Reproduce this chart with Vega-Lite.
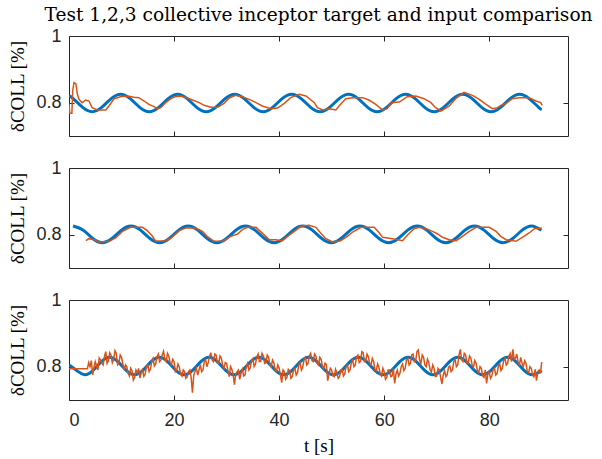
{
  "$schema": "https://vega.github.io/schema/vega-lite/v6.json",
  "padding": {"left": 8, "top": 6, "right": 2, "bottom": 0},
  "background": "white",
  "spacing": 22,
  "datasets": {
    "t1": [{"t":0,"v":0.821},{"t":0.8,"v":0.812},{"t":2.61,"v":0.786},{"t":4.41,"v":0.773},{"t":6.22,"v":0.786},{"t":8.03,"v":0.812},{"t":9.84,"v":0.825},{"t":11.65,"v":0.812},{"t":13.46,"v":0.786},{"t":15.26,"v":0.773},{"t":17.07,"v":0.786},{"t":18.88,"v":0.812},{"t":20.69,"v":0.825},{"t":22.5,"v":0.812},{"t":24.31,"v":0.786},{"t":26.12,"v":0.773},{"t":27.92,"v":0.786},{"t":29.73,"v":0.812},{"t":31.54,"v":0.825},{"t":33.35,"v":0.812},{"t":35.16,"v":0.786},{"t":36.96,"v":0.773},{"t":38.77,"v":0.786},{"t":40.58,"v":0.812},{"t":42.39,"v":0.825},{"t":44.2,"v":0.812},{"t":46.01,"v":0.786},{"t":47.81,"v":0.773},{"t":49.62,"v":0.786},{"t":51.43,"v":0.812},{"t":53.24,"v":0.825},{"t":55.05,"v":0.812},{"t":56.86,"v":0.786},{"t":58.66,"v":0.773},{"t":60.47,"v":0.786},{"t":62.28,"v":0.812},{"t":64.09,"v":0.825},{"t":65.9,"v":0.812},{"t":67.71,"v":0.786},{"t":69.51,"v":0.773},{"t":71.32,"v":0.786},{"t":73.13,"v":0.812},{"t":74.94,"v":0.825},{"t":76.75,"v":0.812},{"t":78.56,"v":0.786},{"t":80.36,"v":0.773},{"t":82.17,"v":0.786},{"t":83.98,"v":0.812},{"t":85.79,"v":0.825},{"t":87.6,"v":0.812},{"t":89.41,"v":0.786},{"t":90,"v":0.779}],
    "i1": [{"t":0,"v":0.797},{"t":0.15,"v":0.768},{"t":0.55,"v":0.768},{"t":0.7,"v":0.835},{"t":0.95,"v":0.86},{"t":1.3,"v":0.857},{"t":1.6,"v":0.825},{"t":1.9,"v":0.81},{"t":2.5,"v":0.8},{"t":3.2,"v":0.808},{"t":3.8,"v":0.805},{"t":4.4,"v":0.785},{"t":5.4,"v":0.778},{"t":7.0,"v":0.778},{"t":7.6,"v":0.79},{"t":8.6,"v":0.812},{"t":9.8,"v":0.818},{"t":11.1,"v":0.82},{"t":12.4,"v":0.816},{"t":13.3,"v":0.815},{"t":14.3,"v":0.805},{"t":15.2,"v":0.795},{"t":16.2,"v":0.788},{"t":16.8,"v":0.782},{"t":17.5,"v":0.785},{"t":18.4,"v":0.8},{"t":19.4,"v":0.812},{"t":20.3,"v":0.818},{"t":21.3,"v":0.82},{"t":22.5,"v":0.814},{"t":23.5,"v":0.808},{"t":24.8,"v":0.8},{"t":25.7,"v":0.792},{"t":27.0,"v":0.786},{"t":28.3,"v":0.786},{"t":29.5,"v":0.798},{"t":30.5,"v":0.814},{"t":31.7,"v":0.822},{"t":33.0,"v":0.818},{"t":34.3,"v":0.81},{"t":35.6,"v":0.8},{"t":36.8,"v":0.79},{"t":38.4,"v":0.782},{"t":39.7,"v":0.784},{"t":41.0,"v":0.798},{"t":42.2,"v":0.815},{"t":43.8,"v":0.825},{"t":45.1,"v":0.82},{"t":46.7,"v":0.8},{"t":47.3,"v":0.785},{"t":48.3,"v":0.778},{"t":49.5,"v":0.782},{"t":50.8,"v":0.778},{"t":51.7,"v":0.795},{"t":52.7,"v":0.812},{"t":54.0,"v":0.815},{"t":55.9,"v":0.815},{"t":57.1,"v":0.808},{"t":58.4,"v":0.795},{"t":59.7,"v":0.778},{"t":60.6,"v":0.782},{"t":61.3,"v":0.8},{"t":62.9,"v":0.802},{"t":64.4,"v":0.818},{"t":66.0,"v":0.82},{"t":67.6,"v":0.812},{"t":68.9,"v":0.8},{"t":69.8,"v":0.785},{"t":70.8,"v":0.775},{"t":72.4,"v":0.79},{"t":73.6,"v":0.812},{"t":75.2,"v":0.831},{"t":76.8,"v":0.822},{"t":78.1,"v":0.81},{"t":79.4,"v":0.795},{"t":80.6,"v":0.782},{"t":81.6,"v":0.785},{"t":82.2,"v":0.792},{"t":83.2,"v":0.798},{"t":84.4,"v":0.812},{"t":85.7,"v":0.815},{"t":87.6,"v":0.815},{"t":88.9,"v":0.805},{"t":89.8,"v":0.8},{"t":90.1,"v":0.792}],
    "t2": [{"t":0.76,"v":0.826},{"t":2.72,"v":0.8135},{"t":4.53,"v":0.7885},{"t":6.35,"v":0.776},{"t":8.17,"v":0.7885},{"t":9.98,"v":0.8135},{"t":11.8,"v":0.826},{"t":13.62,"v":0.8135},{"t":15.43,"v":0.7885},{"t":17.25,"v":0.776},{"t":19.07,"v":0.7885},{"t":20.88,"v":0.8135},{"t":22.7,"v":0.826},{"t":24.52,"v":0.8135},{"t":26.33,"v":0.7885},{"t":28.15,"v":0.776},{"t":29.97,"v":0.7885},{"t":31.78,"v":0.8135},{"t":33.6,"v":0.826},{"t":35.42,"v":0.8135},{"t":37.23,"v":0.7885},{"t":39.05,"v":0.776},{"t":40.87,"v":0.7885},{"t":42.68,"v":0.8135},{"t":44.5,"v":0.826},{"t":46.32,"v":0.8135},{"t":48.13,"v":0.7885},{"t":49.95,"v":0.776},{"t":51.77,"v":0.7885},{"t":53.58,"v":0.8135},{"t":55.4,"v":0.826},{"t":57.22,"v":0.8135},{"t":59.03,"v":0.7885},{"t":60.85,"v":0.776},{"t":62.67,"v":0.7885},{"t":64.48,"v":0.8135},{"t":66.3,"v":0.826},{"t":68.12,"v":0.8135},{"t":69.93,"v":0.7885},{"t":71.75,"v":0.776},{"t":73.57,"v":0.7885},{"t":75.38,"v":0.8135},{"t":77.2,"v":0.826},{"t":79.02,"v":0.8135},{"t":80.83,"v":0.7885},{"t":82.65,"v":0.776},{"t":84.47,"v":0.7885},{"t":86.28,"v":0.8135},{"t":88.1,"v":0.826},{"t":89.92,"v":0.8135}],
    "i2": [{"t":3.2,"v":0.782},{"t":3.8,"v":0.788},{"t":4.8,"v":0.785},{"t":5.7,"v":0.778},{"t":7.6,"v":0.78},{"t":8.9,"v":0.79},{"t":10.2,"v":0.81},{"t":11.7,"v":0.822},{"t":14.0,"v":0.822},{"t":14.9,"v":0.812},{"t":15.9,"v":0.795},{"t":16.5,"v":0.78},{"t":18.4,"v":0.782},{"t":19.4,"v":0.79},{"t":21.0,"v":0.812},{"t":22.2,"v":0.82},{"t":24.1,"v":0.82},{"t":25.4,"v":0.81},{"t":26.3,"v":0.795},{"t":27.6,"v":0.78},{"t":29.2,"v":0.78},{"t":30.8,"v":0.795},{"t":32.1,"v":0.802},{"t":33.0,"v":0.815},{"t":34.0,"v":0.822},{"t":35.6,"v":0.822},{"t":37.1,"v":0.8},{"t":38.1,"v":0.785},{"t":39.4,"v":0.785},{"t":40.6,"v":0.782},{"t":41.6,"v":0.795},{"t":42.9,"v":0.81},{"t":44.1,"v":0.825},{"t":45.7,"v":0.828},{"t":47.0,"v":0.822},{"t":47.9,"v":0.805},{"t":48.9,"v":0.788},{"t":50.2,"v":0.778},{"t":51.7,"v":0.782},{"t":53.0,"v":0.795},{"t":54.0,"v":0.808},{"t":55.6,"v":0.822},{"t":58.1,"v":0.822},{"t":59.1,"v":0.805},{"t":59.7,"v":0.792},{"t":61.6,"v":0.788},{"t":63.5,"v":0.782},{"t":64.5,"v":0.8},{"t":65.7,"v":0.818},{"t":66.7,"v":0.822},{"t":68.0,"v":0.818},{"t":69.2,"v":0.81},{"t":70.2,"v":0.802},{"t":71.1,"v":0.792},{"t":72.4,"v":0.785},{"t":73.7,"v":0.782},{"t":74.9,"v":0.795},{"t":76.2,"v":0.81},{"t":77.5,"v":0.822},{"t":80.0,"v":0.822},{"t":81.3,"v":0.81},{"t":82.2,"v":0.795},{"t":83.2,"v":0.785},{"t":85.1,"v":0.78},{"t":86.3,"v":0.792},{"t":87.6,"v":0.805},{"t":88.6,"v":0.818},{"t":90.0,"v":0.82}],
    "t3": [{"t":0,"v":0.805},{"t":1.42,"v":0.789},{"t":3.0,"v":0.776},{"t":4.58,"v":0.789},{"t":6.16,"v":0.815},{"t":7.73,"v":0.828},{"t":9.31,"v":0.815},{"t":10.89,"v":0.789},{"t":12.47,"v":0.776},{"t":14.05,"v":0.789},{"t":15.63,"v":0.815},{"t":17.2,"v":0.828},{"t":18.78,"v":0.815},{"t":20.36,"v":0.789},{"t":21.94,"v":0.776},{"t":23.52,"v":0.789},{"t":25.1,"v":0.815},{"t":26.67,"v":0.828},{"t":28.25,"v":0.815},{"t":29.83,"v":0.789},{"t":31.41,"v":0.776},{"t":32.99,"v":0.789},{"t":34.57,"v":0.815},{"t":36.14,"v":0.828},{"t":37.72,"v":0.815},{"t":39.3,"v":0.789},{"t":40.88,"v":0.776},{"t":42.46,"v":0.789},{"t":44.04,"v":0.815},{"t":45.61,"v":0.828},{"t":47.19,"v":0.815},{"t":48.77,"v":0.789},{"t":50.35,"v":0.776},{"t":51.93,"v":0.789},{"t":53.51,"v":0.815},{"t":55.08,"v":0.828},{"t":56.66,"v":0.815},{"t":58.24,"v":0.789},{"t":59.82,"v":0.776},{"t":61.4,"v":0.789},{"t":62.98,"v":0.815},{"t":64.55,"v":0.828},{"t":66.13,"v":0.815},{"t":67.71,"v":0.789},{"t":69.29,"v":0.776},{"t":70.87,"v":0.789},{"t":72.45,"v":0.815},{"t":74.02,"v":0.828},{"t":75.6,"v":0.815},{"t":77.18,"v":0.789},{"t":78.76,"v":0.776},{"t":80.34,"v":0.789},{"t":81.92,"v":0.815},{"t":83.49,"v":0.828},{"t":85.07,"v":0.815},{"t":86.65,"v":0.789},{"t":88.23,"v":0.776},{"t":90,"v":0.788}],
    "i3": [{"t":0,"v":0.794},{"t":3.5,"v":0.794},{"t":3.75,"v":0.812},{"t":4,"v":0.8},{"t":4.25,"v":0.818},{"t":4.5,"v":0.775},{"t":4.75,"v":0.798},{"t":5,"v":0.815},{"t":5.25,"v":0.802},{"t":5.5,"v":0.79},{"t":5.75,"v":0.826},{"t":6,"v":0.82},{"t":6.25,"v":0.81},{"t":6.5,"v":0.805},{"t":6.75,"v":0.83},{"t":7,"v":0.845},{"t":7.25,"v":0.81},{"t":7.5,"v":0.818},{"t":7.75,"v":0.842},{"t":8,"v":0.835},{"t":8.25,"v":0.812},{"t":8.5,"v":0.822},{"t":8.75,"v":0.848},{"t":9,"v":0.84},{"t":9.25,"v":0.806},{"t":9.5,"v":0.812},{"t":9.75,"v":0.835},{"t":10,"v":0.828},{"t":10.25,"v":0.808},{"t":10.5,"v":0.79},{"t":10.75,"v":0.805},{"t":11,"v":0.8},{"t":11.25,"v":0.78},{"t":11.5,"v":0.772},{"t":11.75,"v":0.795},{"t":12,"v":0.788},{"t":12.25,"v":0.76},{"t":12.5,"v":0.768},{"t":12.75,"v":0.79},{"t":13,"v":0.781},{"t":13.25,"v":0.795},{"t":13.5,"v":0.766},{"t":13.75,"v":0.782},{"t":14,"v":0.79},{"t":14.25,"v":0.771},{"t":14.5,"v":0.778},{"t":14.75,"v":0.8},{"t":15,"v":0.805},{"t":15.25,"v":0.785},{"t":15.5,"v":0.792},{"t":15.75,"v":0.815},{"t":16,"v":0.825},{"t":16.25,"v":0.802},{"t":16.5,"v":0.808},{"t":16.75,"v":0.83},{"t":17,"v":0.838},{"t":17.25,"v":0.815},{"t":17.5,"v":0.82},{"t":17.75,"v":0.835},{"t":18,"v":0.846},{"t":18.25,"v":0.822},{"t":18.5,"v":0.815},{"t":18.75,"v":0.84},{"t":19,"v":0.832},{"t":19.25,"v":0.812},{"t":19.5,"v":0.806},{"t":19.75,"v":0.822},{"t":20,"v":0.815},{"t":20.25,"v":0.785},{"t":20.5,"v":0.79},{"t":20.75,"v":0.808},{"t":21,"v":0.798},{"t":21.25,"v":0.778},{"t":21.5,"v":0.772},{"t":21.75,"v":0.79},{"t":22,"v":0.785},{"t":22.25,"v":0.765},{"t":22.5,"v":0.77},{"t":22.75,"v":0.785},{"t":23,"v":0.79},{"t":23.25,"v":0.768},{"t":23.5,"v":0.722},{"t":23.75,"v":0.775},{"t":24,"v":0.786},{"t":24.25,"v":0.795},{"t":24.5,"v":0.775},{"t":24.75,"v":0.79},{"t":25,"v":0.806},{"t":25.25,"v":0.785},{"t":25.5,"v":0.79},{"t":25.75,"v":0.815},{"t":26,"v":0.822},{"t":26.25,"v":0.8},{"t":26.5,"v":0.812},{"t":26.75,"v":0.83},{"t":27,"v":0.842},{"t":27.25,"v":0.82},{"t":27.5,"v":0.815},{"t":27.75,"v":0.838},{"t":28,"v":0.835},{"t":28.25,"v":0.81},{"t":28.5,"v":0.81},{"t":28.75,"v":0.832},{"t":29,"v":0.826},{"t":29.25,"v":0.805},{"t":29.5,"v":0.795},{"t":29.75,"v":0.812},{"t":30,"v":0.81},{"t":30.25,"v":0.788},{"t":30.5,"v":0.77},{"t":30.75,"v":0.8},{"t":31,"v":0.792},{"t":31.25,"v":0.775},{"t":31.5,"v":0.746},{"t":31.75,"v":0.778},{"t":32,"v":0.785},{"t":32.25,"v":0.79},{"t":32.5,"v":0.762},{"t":32.75,"v":0.78},{"t":33,"v":0.792},{"t":33.25,"v":0.772},{"t":33.5,"v":0.775},{"t":33.75,"v":0.8},{"t":34,"v":0.81},{"t":34.25,"v":0.79},{"t":34.5,"v":0.796},{"t":34.75,"v":0.818},{"t":35,"v":0.824},{"t":35.25,"v":0.8},{"t":35.5,"v":0.808},{"t":35.75,"v":0.83},{"t":36,"v":0.838},{"t":36.25,"v":0.815},{"t":36.5,"v":0.816},{"t":36.75,"v":0.84},{"t":37,"v":0.832},{"t":37.25,"v":0.81},{"t":37.5,"v":0.812},{"t":37.75,"v":0.835},{"t":38,"v":0.828},{"t":38.25,"v":0.805},{"t":38.5,"v":0.8},{"t":38.75,"v":0.82},{"t":39,"v":0.812},{"t":39.25,"v":0.79},{"t":39.5,"v":0.786},{"t":39.75,"v":0.805},{"t":40,"v":0.796},{"t":40.25,"v":0.775},{"t":40.5,"v":0.752},{"t":40.75,"v":0.79},{"t":41,"v":0.785},{"t":41.25,"v":0.762},{"t":41.5,"v":0.768},{"t":41.75,"v":0.792},{"t":42,"v":0.788},{"t":42.25,"v":0.765},{"t":42.5,"v":0.77},{"t":42.75,"v":0.79},{"t":43,"v":0.795},{"t":43.25,"v":0.775},{"t":43.5,"v":0.782},{"t":43.75,"v":0.805},{"t":44,"v":0.812},{"t":44.25,"v":0.79},{"t":44.5,"v":0.798},{"t":44.75,"v":0.822},{"t":45,"v":0.828},{"t":45.25,"v":0.805},{"t":45.5,"v":0.81},{"t":45.75,"v":0.832},{"t":46,"v":0.84},{"t":46.25,"v":0.818},{"t":46.5,"v":0.815},{"t":46.75,"v":0.838},{"t":47,"v":0.832},{"t":47.25,"v":0.81},{"t":47.5,"v":0.805},{"t":47.75,"v":0.828},{"t":48,"v":0.822},{"t":48.25,"v":0.8},{"t":48.5,"v":0.795},{"t":48.75,"v":0.81},{"t":49,"v":0.806},{"t":49.25,"v":0.758},{"t":49.5,"v":0.776},{"t":49.75,"v":0.795},{"t":50,"v":0.79},{"t":50.25,"v":0.772},{"t":50.5,"v":0.77},{"t":50.75,"v":0.792},{"t":51,"v":0.782},{"t":51.25,"v":0.765},{"t":51.5,"v":0.77},{"t":51.75,"v":0.79},{"t":52,"v":0.792},{"t":52.25,"v":0.772},{"t":52.5,"v":0.778},{"t":52.75,"v":0.8},{"t":53,"v":0.806},{"t":53.25,"v":0.785},{"t":53.5,"v":0.79},{"t":53.75,"v":0.812},{"t":54,"v":0.82},{"t":54.25,"v":0.8},{"t":54.5,"v":0.805},{"t":54.75,"v":0.83},{"t":55,"v":0.835},{"t":55.25,"v":0.812},{"t":55.5,"v":0.815},{"t":55.75,"v":0.845},{"t":56,"v":0.842},{"t":56.25,"v":0.815},{"t":56.5,"v":0.818},{"t":56.75,"v":0.838},{"t":57,"v":0.83},{"t":57.25,"v":0.808},{"t":57.5,"v":0.805},{"t":57.75,"v":0.825},{"t":58,"v":0.815},{"t":58.25,"v":0.79},{"t":58.5,"v":0.788},{"t":58.75,"v":0.808},{"t":59,"v":0.798},{"t":59.25,"v":0.778},{"t":59.5,"v":0.772},{"t":59.75,"v":0.795},{"t":60,"v":0.785},{"t":60.25,"v":0.762},{"t":60.5,"v":0.768},{"t":60.75,"v":0.79},{"t":61,"v":0.79},{"t":61.25,"v":0.77},{"t":61.5,"v":0.772},{"t":61.75,"v":0.795},{"t":62,"v":0.75},{"t":62.25,"v":0.778},{"t":62.5,"v":0.79},{"t":62.75,"v":0.772},{"t":63,"v":0.78},{"t":63.25,"v":0.8},{"t":63.5,"v":0.808},{"t":63.75,"v":0.788},{"t":64,"v":0.795},{"t":64.25,"v":0.82},{"t":64.5,"v":0.825},{"t":64.75,"v":0.805},{"t":65,"v":0.81},{"t":65.25,"v":0.835},{"t":65.5,"v":0.838},{"t":65.75,"v":0.815},{"t":66,"v":0.818},{"t":66.25,"v":0.845},{"t":66.5,"v":0.85},{"t":66.75,"v":0.82},{"t":67,"v":0.81},{"t":67.25,"v":0.835},{"t":67.5,"v":0.828},{"t":67.75,"v":0.805},{"t":68,"v":0.8},{"t":68.25,"v":0.822},{"t":68.5,"v":0.812},{"t":68.75,"v":0.79},{"t":69,"v":0.784},{"t":69.25,"v":0.805},{"t":69.5,"v":0.795},{"t":69.75,"v":0.77},{"t":70,"v":0.772},{"t":70.25,"v":0.795},{"t":70.5,"v":0.79},{"t":70.75,"v":0.768},{"t":71,"v":0.748},{"t":71.25,"v":0.775},{"t":71.5,"v":0.788},{"t":71.75,"v":0.77},{"t":72,"v":0.776},{"t":72.25,"v":0.798},{"t":72.5,"v":0.802},{"t":72.75,"v":0.785},{"t":73,"v":0.79},{"t":73.25,"v":0.815},{"t":73.5,"v":0.822},{"t":73.75,"v":0.8},{"t":74,"v":0.805},{"t":74.25,"v":0.835},{"t":74.5,"v":0.852},{"t":74.75,"v":0.82},{"t":75,"v":0.815},{"t":75.25,"v":0.84},{"t":75.5,"v":0.835},{"t":75.75,"v":0.812},{"t":76,"v":0.81},{"t":76.25,"v":0.832},{"t":76.5,"v":0.826},{"t":76.75,"v":0.805},{"t":77,"v":0.798},{"t":77.25,"v":0.818},{"t":77.5,"v":0.81},{"t":77.75,"v":0.788},{"t":78,"v":0.782},{"t":78.25,"v":0.8},{"t":78.5,"v":0.795},{"t":78.75,"v":0.772},{"t":79,"v":0.768},{"t":79.25,"v":0.79},{"t":79.5,"v":0.75},{"t":79.75,"v":0.778},{"t":80,"v":0.785},{"t":80.25,"v":0.765},{"t":80.5,"v":0.772},{"t":80.75,"v":0.792},{"t":81,"v":0.795},{"t":81.25,"v":0.775},{"t":81.5,"v":0.78},{"t":81.75,"v":0.802},{"t":82,"v":0.808},{"t":82.25,"v":0.788},{"t":82.5,"v":0.795},{"t":82.75,"v":0.818},{"t":83,"v":0.825},{"t":83.25,"v":0.805},{"t":83.5,"v":0.81},{"t":83.75,"v":0.832},{"t":84,"v":0.84},{"t":84.25,"v":0.815},{"t":84.5,"v":0.852},{"t":84.75,"v":0.822},{"t":85,"v":0.826},{"t":85.25,"v":0.838},{"t":85.5,"v":0.812},{"t":85.75,"v":0.806},{"t":86,"v":0.828},{"t":86.25,"v":0.81},{"t":86.5,"v":0.8},{"t":86.75,"v":0.818},{"t":87,"v":0.81},{"t":87.25,"v":0.785},{"t":87.5,"v":0.782},{"t":87.75,"v":0.8},{"t":88,"v":0.795},{"t":88.25,"v":0.776},{"t":88.5,"v":0.77},{"t":88.75,"v":0.792},{"t":89,"v":0.758},{"t":89.25,"v":0.785},{"t":89.5,"v":0.79},{"t":89.75,"v":0.78},{"t":90,"v":0.814}]
  },
  "vconcat": [
    {
      "width": 499, "height": 100,
      "title": {"text": "Test 1,2,3 collective inceptor target and input comparison", "frame": "group", "anchor": "middle", "font": "DejaVu Serif", "fontSize": 18.6, "fontWeight": "normal", "color": "#000000", "offset": 2},
      "layer": [
        {"data": {"name": "t1"}, "mark": {"type": "line", "color": "#0072BD", "strokeWidth": 3, "interpolate": "natural", "clip": true},
         "encoding": {
           "x": {"field": "t", "type": "quantitative", "scale": {"domain": [0, 95], "nice": false, "zero": false}, "axis": {"orient": "bottom", "values": [0, 20, 40, 60, 80], "labels": false, "title": null}},
           "y": {"field": "v", "type": "quantitative", "scale": {"domain": [0.7, 1], "nice": false, "zero": false}, "axis": {"orient": "left", "values": [0.8, 1], "format": "~g", "title": "δCOLL [%]"}}
         }},
        {"data": {"name": "i1"}, "mark": {"type": "line", "color": "#D95319", "strokeWidth": 1.5, "clip": true},
         "encoding": {
           "x": {"field": "t", "type": "quantitative", "axis": {"orient": "top", "values": [20, 40, 60, 80], "labels": false, "title": null}},
           "y": {"field": "v", "type": "quantitative", "axis": {"orient": "right", "values": [0.8], "labels": false, "title": null}}
         }}
      ],
      "resolve": {"axis": {"x": "independent", "y": "independent"}}
    },
    {
      "width": 499, "height": 100,
      "layer": [
        {"data": {"name": "t2"}, "mark": {"type": "line", "color": "#0072BD", "strokeWidth": 3, "interpolate": "natural", "clip": true},
         "encoding": {
           "x": {"field": "t", "type": "quantitative", "scale": {"domain": [0, 95], "nice": false, "zero": false}, "axis": {"orient": "bottom", "values": [0, 20, 40, 60, 80], "labels": false, "title": null}},
           "y": {"field": "v", "type": "quantitative", "scale": {"domain": [0.7, 1], "nice": false, "zero": false}, "axis": {"orient": "left", "values": [0.8, 1], "format": "~g", "title": "δCOLL [%]"}}
         }},
        {"data": {"name": "i2"}, "mark": {"type": "line", "color": "#D95319", "strokeWidth": 1.5, "clip": true},
         "encoding": {
           "x": {"field": "t", "type": "quantitative", "axis": {"orient": "top", "values": [20, 40, 60, 80], "labels": false, "title": null}},
           "y": {"field": "v", "type": "quantitative", "axis": {"orient": "right", "values": [0.8], "labels": false, "title": null}}
         }}
      ],
      "resolve": {"axis": {"x": "independent", "y": "independent"}}
    },
    {
      "width": 499, "height": 100,
      "layer": [
        {"data": {"name": "t3"}, "mark": {"type": "line", "color": "#0072BD", "strokeWidth": 3, "interpolate": "natural", "clip": true},
         "encoding": {
           "x": {"field": "t", "type": "quantitative", "scale": {"domain": [0, 95], "nice": false, "zero": false}, "axis": {"orient": "bottom", "values": [0, 20, 40, 60, 80], "labels": true, "title": "t [s]"}},
           "y": {"field": "v", "type": "quantitative", "scale": {"domain": [0.7, 1], "nice": false, "zero": false}, "axis": {"orient": "left", "values": [0.8, 1], "format": "~g", "title": "δCOLL [%]"}}
         }},
        {"data": {"name": "i3"}, "mark": {"type": "line", "color": "#D95319", "strokeWidth": 1.5, "clip": true},
         "encoding": {
           "x": {"field": "t", "type": "quantitative", "axis": {"orient": "top", "values": [20, 40, 60, 80], "labels": false, "title": null}},
           "y": {"field": "v", "type": "quantitative", "axis": {"orient": "right", "values": [0.8], "labels": false, "title": null}}
         }}
      ],
      "resolve": {"axis": {"x": "independent", "y": "independent"}}
    }
  ],
  "config": {
    "view": {"stroke": null},
    "axis": {
      "grid": false,
      "domainColor": "#262626",
      "domainWidth": 1,
      "tickColor": "#262626",
      "tickSize": -5,
      "labelColor": "#262626",
      "labelFont": "Liberation Sans",
      "labelFontSize": 18,
      "titleFont": "Liberation Serif",
      "titleFontSize": 19,
      "titleFontWeight": "normal",
      "titleColor": "#000000"
    },
    "axisX": {"labelPadding": 16, "titlePadding": 7},
    "axisY": {"labelPadding": 13, "titlePadding": 8}
  }
}
